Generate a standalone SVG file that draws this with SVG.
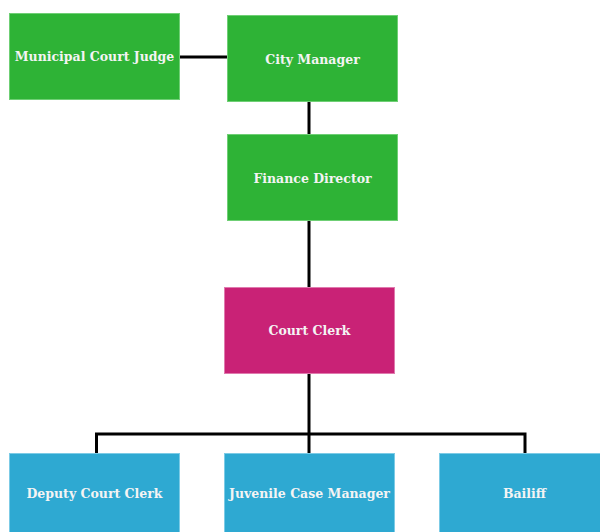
<svg xmlns="http://www.w3.org/2000/svg" width="600" height="532" viewBox="0 0 600 532">
<style>
.g{fill:#2eb336;stroke:#6fcf75;stroke-width:1}
.m{fill:#c92276;stroke:#e07aae;stroke-width:1}
.b{fill:#2ea9d2;stroke:#7ccbe6;stroke-width:1}
text{font-family:"DejaVu Serif","Liberation Serif",serif;font-weight:bold;font-size:12.5px;fill:#f4f4f4;text-anchor:middle;dominant-baseline:central}
.c{fill:none;stroke:#000;stroke-width:3}
</style>
<rect width="600" height="532" fill="#fff"/>
<g id="connectors">
<path class="c" d="M180 57H227"/>
<path class="c" d="M309 101V134"/>
<path class="c" d="M309 220V287"/>
<path class="c" d="M309 373V453"/>
<path class="c" d="M96.5 453V434H525V453"/>
</g>
<g id="judge"><rect class="g" x="9.5" y="13.5" width="170" height="86"/><text x="94.5" y="56">Municipal Court Judge</text></g>
<g id="city-manager"><rect class="g" x="227.5" y="15.5" width="170" height="86"/><text x="312.5" y="59">City Manager</text></g>
<g id="finance-director"><rect class="g" x="227.5" y="134.5" width="170" height="86"/><text x="312.5" y="178">Finance Director</text></g>
<g id="court-clerk"><rect class="m" x="224.5" y="287.5" width="170" height="86"/><text x="309.5" y="330">Court Clerk</text></g>
<g id="deputy"><rect class="b" x="9.5" y="453.5" width="170" height="86"/><text x="94.5" y="493">Deputy Court Clerk</text></g>
<g id="juvenile"><rect class="b" x="224.5" y="453.5" width="170" height="86"/><text x="309.5" y="493">Juvenile Case Manager</text></g>
<g id="bailiff"><rect class="b" x="439.5" y="453.5" width="170" height="86"/><text x="524.5" y="493">Bailiff</text></g>
</svg>
